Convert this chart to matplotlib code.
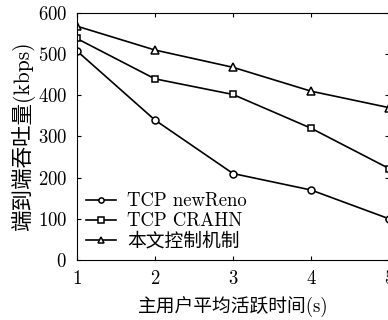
import matplotlib
matplotlib.use("Agg")
import matplotlib.pyplot as plt

plt.rcParams['font.family'] = ['cmr10', 'Noto Sans CJK SC', 'DejaVu Sans']
plt.rcParams['axes.formatter.use_mathtext'] = True

x = [1, 2, 3, 4, 5]
newreno = [508, 340, 210, 170, 100]
crahn = [538, 440, 402, 320, 222]
ours = [568, 510, 468, 410, 370]

fig = plt.figure(figsize=(3.88, 3.2), dpi=100)
ax = fig.add_axes([0.198, 0.1875, 0.805, 0.772])

ax.plot(x, newreno, 'k-', marker='o', mfc='white', ms=5, lw=1.2, mew=1.1, label='TCP newReno')
ax.plot(x, crahn, 'k-', marker='s', mfc='white', ms=5, lw=1.2, mew=1.1, label='TCP CRAHN')
ax.plot(x, ours, 'k-', marker='^', mfc='white', ms=5.5, lw=1.2, mew=1.1, label='本文控制机制')

ax.set_xlim(1, 5)
ax.set_ylim(0, 600)
ax.set_xticks(x)
ax.set_yticks([0, 100, 200, 300, 400, 500, 600])
ax.tick_params(direction='in', top=True, right=True, labelsize=13.5, length=3, pad=7)
for s in ax.spines.values():
    s.set_linewidth(0.8)

ax.set_xlabel('主用户平均活跃时间(s)', fontsize=13.5, labelpad=6)
ax.set_ylabel('端到端吞吐量(kbps)', fontsize=15.5, labelpad=2)

ax.legend(loc='lower left', frameon=False, fontsize=13.5, handlelength=1.6,
          borderaxespad=0.1, labelspacing=0.12, handletextpad=0.6,
          markerscale=0.75, bbox_to_anchor=(0.0, 0.0))

fig.savefig('out.png', dpi=100)
